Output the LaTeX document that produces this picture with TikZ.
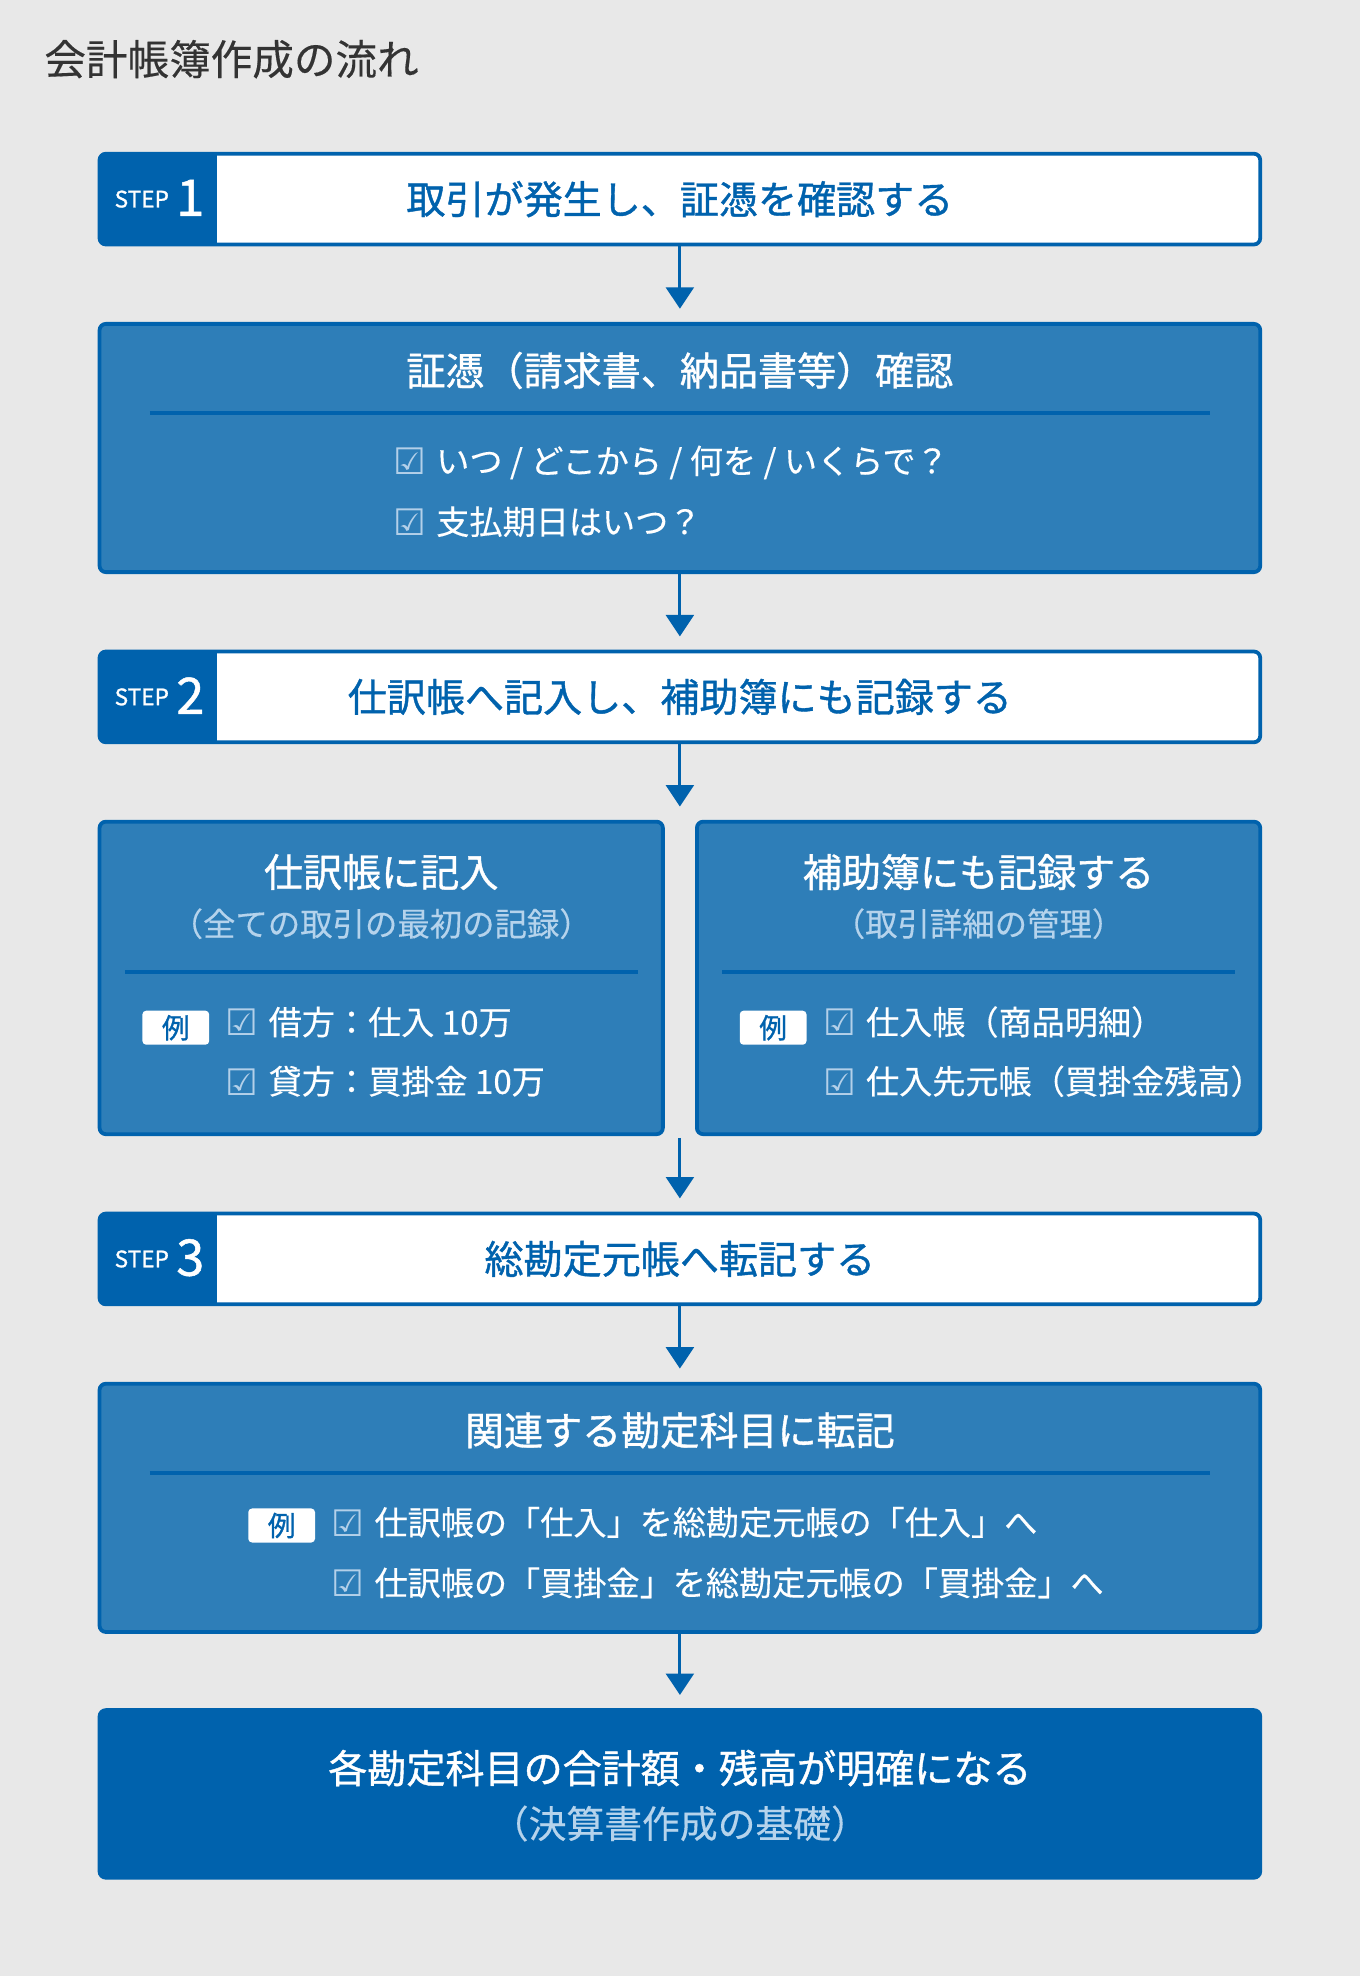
\documentclass[tikz,border=0pt]{standalone}
\usepackage{fontspec}
\setmainfont{Noto Sans CJK JP}[FakeBold=0.3]
\newfontfamily\medfont{Noto Sans CJK JP}[FakeBold=1]
\newfontfamily\symfont{DejaVu Sans}
\usepackage{tikz}
\usetikzlibrary{arrows.meta, calc}

\definecolor{bgray}{HTML}{E8E8E8}
\definecolor{stepblue}{HTML}{0062AD}
\definecolor{infoblue}{HTML}{2E7EB8}
\definecolor{subblue}{HTML}{B5D3EC}
\definecolor{chkblue}{HTML}{B3D0E9}
\definecolor{titlegray}{HTML}{333333}

\newcommand{\chk}{{\color{chkblue}\symfont\fontsize{29}{29}\selectfont\raisebox{-1pt}{☑}}\hspace{8pt}}

\begin{document}
\begin{tikzpicture}[x=1pt, y=-1pt,
	font=\fontsize{26.3}{30}\selectfont,
	box/.style={draw=stepblue, line width=3pt, rounded corners=5pt, inner sep=0pt, outer sep=0pt},
	stepbox/.style={box, fill=white, minimum width=921pt, minimum height=72pt,
		text=stepblue, font=\medfont\fontsize{31}{31}\selectfont},
	infobox/.style={box, fill=infoblue},
	boxtitle/.style={text=white, inner sep=0pt, font=\medfont\fontsize{31}{31}\selectfont},
	subtitle/.style={text=subblue, inner sep=0pt, font=\fontsize{25.7}{26}\selectfont},
	itemtext/.style={text=white, anchor=west, inner sep=0pt},
	badge/.style={fill=white, rounded corners=3pt, text=stepblue, minimum width=53pt,
		minimum height=27pt, inner sep=0pt, font=\medfont\fontsize{22}{22}\selectfont},
	sepline/.style={draw=stepblue, line width=3pt},
	steplabel/.style={text=white, inner sep=0pt, font=\medfont\fontsize{18}{18}\selectfont},
	stepnum/.style={text=white, inner sep=0pt, font=\medfont\fontsize{40}{40}\selectfont},
	flow/.style={draw=stepblue, line width=2.5pt, -{Triangle[width=22pt, length=17pt]}}]
	%   border/.style={draw}
	
	\fill[bgray] (0,0) rectangle (1079,1568);
	\useasboundingbox (0,0) rectangle (1079,1568);
	
	\node[anchor=west, inner sep=0pt, text=titlegray, font=\fontsize{33}{33}\selectfont] (head) at (35,47) {会計帳簿作成の流れ};
	
	% steps
	\node[stepbox] (s1) at (539.5,158) {取引が発生し、証憑を確認する};
	\node[stepbox] (s2) at (539.5,553) {仕訳帳へ記入し、補助簿にも記録する};
	\node[stepbox] (s3) at (539.5,999) {総勘定元帳へ転記する};
	\foreach \s/\n in {s1/1, s2/2, s3/3} {
		\fill[stepblue, rounded corners=5pt] (\s.north west) rectangle ([xshift=93pt]\s.south west);
		\fill[stepblue] ([xshift=40pt]\s.north west) rectangle ([xshift=93pt]\s.south west);
		\node[steplabel] (\s l) at ([xshift=33.5pt, yshift=0pt]\s.west) {STEP};
		\node[stepnum] (\s n) at ([xshift=72pt, yshift=1pt]\s.west) {\n};
	}
	
	% box 1
	\node[infobox, minimum width=921pt, minimum height=197pt] (b1) at (539.5,355.5) {};
	\node[boxtitle] (b1t) at (539.5,294) {証憑（請求書、納品書等）確認};
	\draw[sepline] (119,328) -- (960,328);
	\node[itemtext] (b1a) at (312,367) {\chk いつ / どこから / 何を / いくらで？};
	\node[itemtext] (b1b) at (312,414) {\chk 支払期日はいつ？};
	
	% box 2 (left / right)
	\node[infobox, minimum width=447pt, minimum height=248pt] (lb) at (302.5,776) {};
	\node[boxtitle] (lbt) at (302.5,692) {仕訳帳に記入};
	\node[subtitle] (lbs) at (302.5,733) {（全ての取引の最初の記録）};
	\draw[sepline] (99,771) -- (506,771);
	\node[badge] (lbx) at (139.5,815.5) {例};
	\node[itemtext] (lba) at (179,811) {\chk 借方：仕入 10万};
	\node[itemtext] (lbb) at (179,858) {\chk 貸方：買掛金 10万};
	
	\node[infobox, minimum width=447pt, minimum height=248pt] (rb) at (776.5,776) {};
	\node[boxtitle] (rbt) at (776.5,692) {補助簿にも記録する};
	\node[subtitle] (rbs) at (776.5,733) {（取引詳細の管理）};
	\draw[sepline] (573,771) -- (980,771);
	\node[badge] (rbx) at (613.5,815.5) {例};
	\node[itemtext] (rba) at (653,811) {\chk 仕入帳（商品明細）};
	\node[itemtext] (rbb) at (653,858) {\chk 仕入先元帳（買掛金残高）};
	
	% box 3
	\node[infobox, minimum width=921pt, minimum height=197pt] (b3) at (539.5,1196.5) {};
	\node[boxtitle] (b3t) at (539.5,1135) {関連する勘定科目に転記};
	\draw[sepline] (119,1169) -- (960,1169);
	\node[badge] (b3x) at (223.5,1210.5) {例};
	\node[itemtext] (b3a) at (263,1208) {\chk 仕訳帳の「仕入」を総勘定元帳の「仕入」へ};
	\node[itemtext] (b3b) at (263,1256) {\chk 仕訳帳の「買掛金」を総勘定元帳の「買掛金」へ};
	
	% result
	\node[box, fill=stepblue, minimum width=921pt, minimum height=133pt] (fin) at (539.5,1423.5) {};
	\node[boxtitle, font=\medfont\fontsize{31}{31}\selectfont] (fint) at (539.5,1403) {各勘定科目の合計額・残高が明確になる};
	\node[subtitle, font=\fontsize{30}{30}\selectfont] (fins) at (539.5,1447) {（決算書作成の基礎）};
	
	% arrows
	\coordinate (splitin) at ($(lb.north east)!0.5!(rb.north west)$);
	\coordinate (splitout) at ($(lb.south east)!0.5!(rb.south west)$);
	\draw[flow] (s1.south) -- ([yshift=12pt]b1.north);
	\draw[flow] (b1.south) -- ([yshift=12pt]s2.north);
	\draw[flow] (s2.south) -- ([yshift=12pt]splitin);
	\draw[flow] ([yshift=-3pt]splitout) -- ([yshift=12pt]s3.north);
	\draw[flow] (s3.south) -- ([yshift=12pt]b3.north);
	\draw[flow] (b3.south) -- ([yshift=12pt]fin.north);
	
\end{tikzpicture}
\end{document}
